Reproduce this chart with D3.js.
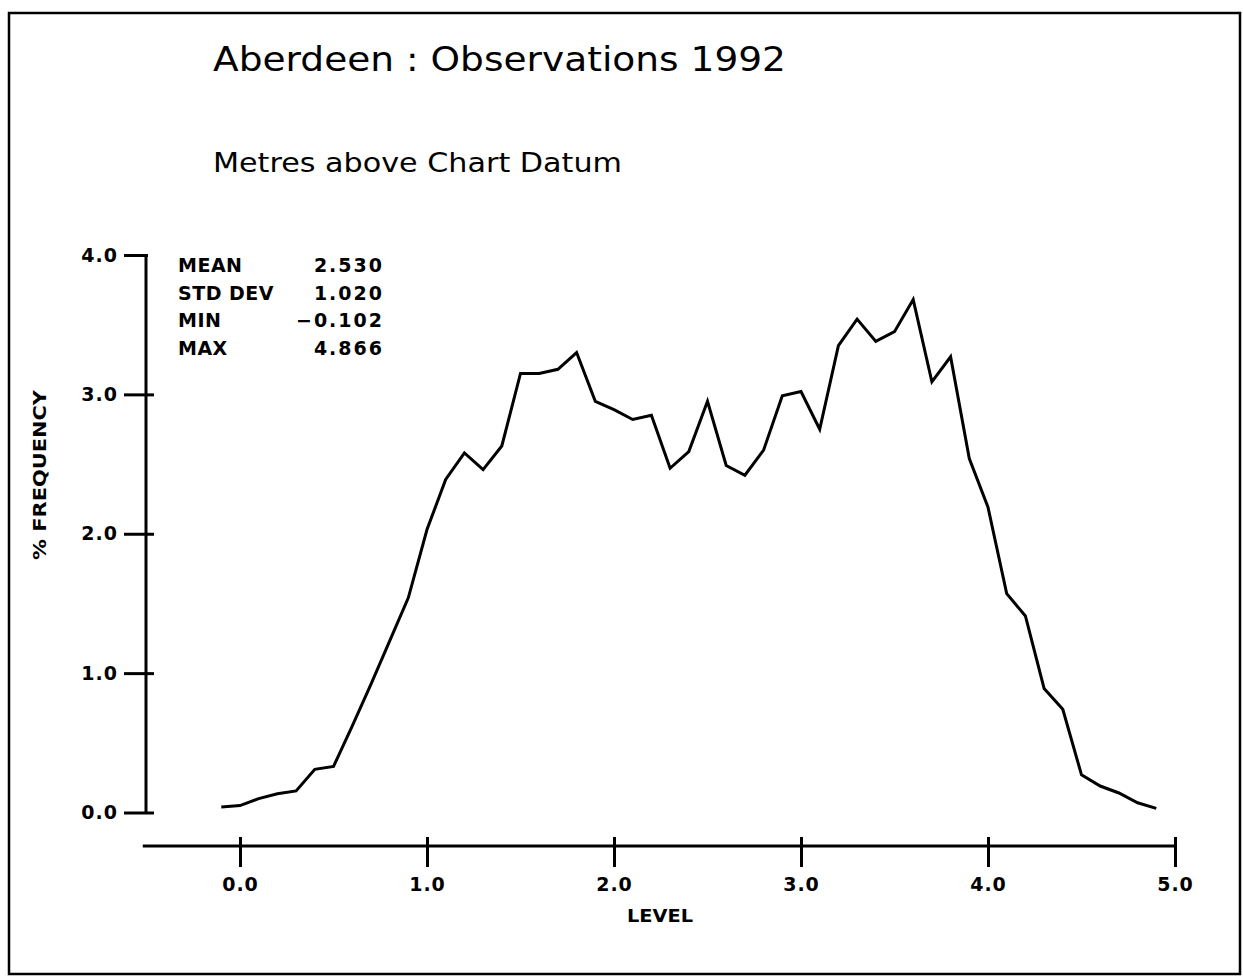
<!DOCTYPE html>
<html>
<head>
<meta charset="utf-8">
<script src="https://cdn.jsdelivr.net/npm/d3@7"></script>
<style>
  body { margin: 0; background: #fff; }
  svg text { fill: #000; }
</style>
</head>
<body>
<div id="chart"></div>
<script>
// chart data
var levels = [-0.1, 0.0, 0.1, 0.2, 0.3, 0.4, 0.5, 0.6, 0.7, 0.8, 0.9,
              1.0, 1.1, 1.2, 1.3, 1.4, 1.5, 1.6, 1.7, 1.8, 1.9,
              2.0, 2.1, 2.2, 2.3, 2.4, 2.5, 2.6, 2.7, 2.8, 2.9,
              3.0, 3.1, 3.2, 3.3, 3.4, 3.5, 3.6, 3.7, 3.8, 3.9,
              4.0, 4.1, 4.2, 4.3, 4.4, 4.5, 4.6, 4.7, 4.8, 4.9];
var freq = [0.04, 0.05, 0.10, 0.135, 0.155, 0.31, 0.33, 0.62, 0.92, 1.23, 1.54,
            2.03, 2.39, 2.58, 2.46, 2.63, 3.15, 3.15, 3.18, 3.30, 2.95,
            2.89, 2.82, 2.85, 2.47, 2.59, 2.95, 2.49, 2.42, 2.60, 2.99,
            3.02, 2.75, 3.35, 3.54, 3.38, 3.45, 3.68, 3.09, 3.27, 2.54,
            2.19, 1.57, 1.41, 0.89, 0.74, 0.27, 0.19, 0.14, 0.07, 0.03];
var xTicks = [0, 1, 2, 3, 4, 5];
var yTicks = [0, 1, 2, 3, 4];
var statNames = ["MEAN", "STD DEV", "MIN", "MAX"];
var statValues = ["2.530", "1.020", "\u22120.102", "4.866"];

var W = 1243, H = 977;

var svg = d3.select("#chart").append("svg")
    .attr("width", W)
    .attr("height", H);

// frame round the whole page
svg.append("rect")
    .attr("x", 9).attr("y", 13)
    .attr("width", 1231).attr("height", 961)
    .attr("fill", "none")
    .attr("stroke", "#000")
    .attr("stroke-width", 2.5);

var x = d3.scaleLinear().domain([0, 5]).range([240, 1175]);
var y = d3.scaleLinear().domain([0, 4]).range([812.5, 255]);

var axisFont = "'DejaVu Sans', sans-serif";

// titles
svg.append("text")
    .attr("x", 213).attr("y", 71)
    .attr("textLength", 573).attr("lengthAdjust", "spacingAndGlyphs")
    .style("font-family", axisFont)
    .style("font-size", "33px")
    .text("Aberdeen : Observations 1992");

svg.append("text")
    .attr("x", 213).attr("y", 172)
    .attr("textLength", 409).attr("lengthAdjust", "spacingAndGlyphs")
    .style("font-family", axisFont)
    .style("font-size", "27px")
    .text("Metres above Chart Datum");

// y axis
var yAxis = svg.append("g")
    .attr("transform", "translate(146,0)")
    .call(d3.axisLeft(y).tickValues(yTicks).tickSize(22).tickPadding(6)
        .tickFormat(d3.format(".1f")));
yAxis.select(".domain")
    .attr("d", "M0," + y(4) + "V" + y(0))
    .attr("stroke-width", 3);
yAxis.selectAll(".tick line")
    .attr("stroke-width", 3)
    .attr("x1", function(d) { return d == 4 ? 2 : 8; });
yAxis.selectAll(".tick text")
    .style("font-family", axisFont)
    .style("font-weight", "bold")
    .style("font-size", "19px")
    .style("letter-spacing", "1px");

svg.append("text")
    .attr("transform", "translate(46,475) rotate(-90)")
    .attr("text-anchor", "middle")
    .attr("textLength", 170).attr("lengthAdjust", "spacingAndGlyphs")
    .style("font-family", axisFont)
    .style("font-weight", "bold")
    .style("font-size", "18px")
    .text("% FREQUENCY");

// x axis
var xAxis = svg.append("g")
    .attr("transform", "translate(0,846)")
    .call(d3.axisBottom(x).tickValues(xTicks).tickSize(21).tickPadding(11)
        .tickFormat(d3.format(".1f")));
xAxis.select(".domain")
    .attr("d", "M" + x(-0.52) + ",0H" + x(5))
    .attr("stroke-width", 3);
xAxis.selectAll(".tick line")
    .attr("stroke-width", 3)
    .attr("y1", -9);
xAxis.selectAll(".tick text")
    .style("font-family", axisFont)
    .style("font-weight", "bold")
    .style("font-size", "19px")
    .style("letter-spacing", "1px");

svg.append("text")
    .attr("x", 660).attr("y", 922)
    .attr("text-anchor", "middle")
    .attr("textLength", 66).attr("lengthAdjust", "spacingAndGlyphs")
    .style("font-family", axisFont)
    .style("font-weight", "bold")
    .style("font-size", "18px")
    .text("LEVEL");

// statistics block
var stats = svg.append("g");
stats.selectAll(".sname")
    .data(statNames)
    .enter().append("text")
    .attr("x", 178)
    .attr("y", function(d, i) { return 272 + i * 27.5; })
    .style("font-family", axisFont)
    .style("font-weight", "bold")
    .style("font-size", "19px")
    .style("letter-spacing", "0.5px")
    .text(function(d) { return d; });
stats.selectAll(".sval")
    .data(statValues)
    .enter().append("text")
    .attr("x", 384)
    .attr("y", function(d, i) { return 272 + i * 27.5; })
    .attr("text-anchor", "end")
    .style("font-family", axisFont)
    .style("font-weight", "bold")
    .style("font-size", "19px")
    .style("letter-spacing", "2px")
    .text(function(d) { return d; });

// the frequency curve
var line = d3.line()
    .x(function(d, i) { return x(levels[i]); })
    .y(function(d) { return y(d); });

svg.append("path")
    .datum(freq)
    .attr("d", line)
    .attr("fill", "none")
    .attr("stroke", "#000")
    .attr("stroke-width", 3)
    .attr("stroke-linejoin", "miter");
</script>
</body>
</html>
